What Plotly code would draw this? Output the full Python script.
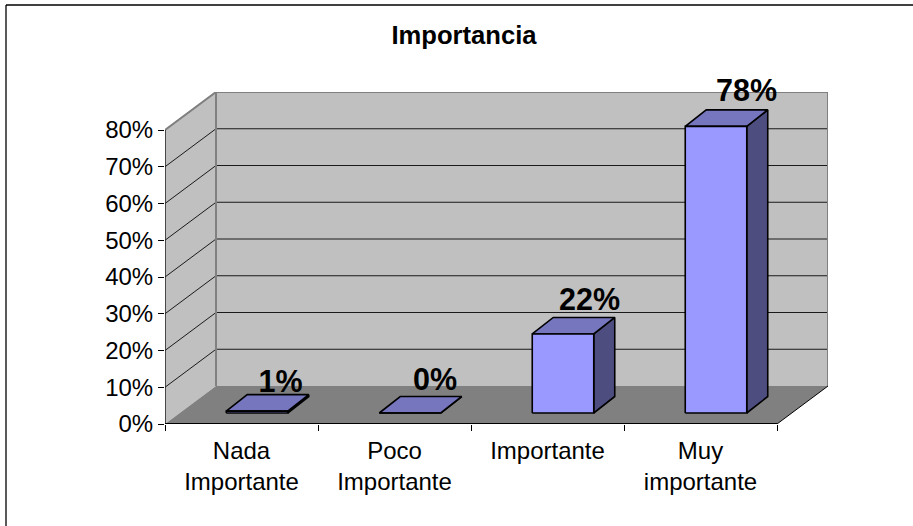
import plotly.graph_objects as go

categories = ["Nada<br>Importante", "Poco<br>Importante", "Importante", "Muy<br>importante"]
values = [0.5, 0.0, 21.5, 78.0]
labels = ["1%", "0%", "22%", "78%"]
y_ticks = [0, 10, 20, 30, 40, 50, 60, 70, 80]

W, H = 913, 526
LEFT, RIGHT_EDGE, TOP, BOTTOM = 165, 828, 92, 424
PX_X, PX_Y = 153.0, 36.75          # pixels per category / per 10 %
SY = PX_Y / 10
ux = lambda px: px / PX_X          # pixels -> axis units
uy = lambda px: px / SY
X0, X1 = -0.5, 3.5
DX, DY = ux(51), uy(38)
YMAX = 80

FONT = "Liberation Sans, Arial, sans-serif"
WALL, FLOOR, GRAY = "#C0C0C0", "#808080", "#808080"
FRONT, TOPC, SIDE = "#9999FF", "#7676BF", "#4D4D80"


def poly(xs, ys, fill, line="rgba(0,0,0,0)", width=0):
    return go.Scatter(x=xs, y=ys, mode="lines", fill="toself", fillcolor=fill,
                      line=dict(color=line, width=width), hoverinfo="skip",
                      showlegend=False, cliponaxis=False)


def path(xs, ys, color, width):
    return go.Scatter(x=xs, y=ys, mode="lines", line=dict(color=color, width=width),
                      hoverinfo="skip", showlegend=False, cliponaxis=False)


fig = go.Figure()
# walls and floor
fig.add_trace(poly([X0, X0, X0 + DX, X0 + DX, X0], [0, YMAX, YMAX + DY, DY, 0], WALL))
fig.add_trace(poly([X0 + DX, X0 + DX, X1 + DX, X1 + DX, X0 + DX],
                   [DY, YMAX + DY, YMAX + DY, DY, DY], WALL))
# gridlines
for v in y_ticks[1:]:
    fig.add_trace(path([X0, X0 + DX, X1 + DX], [v, v + DY, v + DY], "#1a1a1a", 1))
fig.add_trace(poly([X0, X0 + DX, X1 + DX, X1, X0], [0, DY, DY, 0, 0], FLOOR))
# edges
fig.add_trace(path([X0, X0 + DX, X1 + DX, X1 + DX], [YMAX, YMAX + DY, YMAX + DY, DY], GRAY, 2))
fig.add_trace(path([X0 + DX, X0 + DX], [DY, YMAX + DY], GRAY, 2))
fig.add_trace(path([X0, X0], [0, YMAX], "#202020", 1.5))
fig.add_trace(path([X1, X1 + DX], [0, DY], "#000000", 1))
fig.add_trace(path([X0, X1], [0, 0], "#000000", 2))

# bars
BW = ux(61.5) / 2
OX, OY = ux(15.5), uy(11)
BDX, BDY = ux(21), uy(16.5)
for i, v in enumerate(values):
    l, r, b, t = i + OX - BW, i + OX + BW, OY, OY + v
    fig.add_trace(poly([r, r + BDX, r + BDX, r, r], [b, b + BDY, t + BDY, t, b], SIDE, "#000000", 1.6))
    fig.add_trace(poly([l, r, r + BDX, l + BDX, l], [t, t, t + BDY, t + BDY, t], TOPC, "#000000", 1.6))
    fig.add_trace(poly([l, r, r, l, l], [b, b, t, t, b], FRONT, "#000000", 1.6))

# data labels (offsets from the top of each bar, in pixels)
label_dx = [23.5, 25, 26.5, 30.5]
label_dy = [27, 31, 32, 33]
fig.add_trace(go.Scatter(
    x=[i + OX + ux(d) for i, d in enumerate(label_dx)],
    y=[OY + v + uy(d) for v, d in zip(values, label_dy)],
    mode="text", text=labels, textposition="middle center",
    textfont=dict(family=FONT, size=30.5, color="#000000", weight=700),
    hoverinfo="skip", showlegend=False, cliponaxis=False))

plot_w = RIGHT_EDGE - LEFT
plot_h = BOTTOM - TOP
px = lambda p: (p - LEFT) / plot_w
py = lambda p: (BOTTOM - p) / plot_h

fig.update_layout(
    width=W, height=H, autosize=False,
    margin=dict(l=LEFT, r=W - RIGHT_EDGE, t=TOP, b=H - BOTTOM, pad=0),
    paper_bgcolor="white", plot_bgcolor="rgba(0,0,0,0)", showlegend=False,
    title=dict(text="<b>Importancia</b>", x=464 / W, y=1 - 35 / H, xref="container", yref="container",
               xanchor="center", yanchor="middle",
               font=dict(family=FONT, size=25.6, color="#000000")),
    font=dict(family=FONT, size=24, color="#000000"),
    shapes=[
        dict(type="line", xref="paper", yref="paper", x0=px(6), x1=px(W + 5), y0=py(5), y1=py(5),
             line=dict(color="#000000", width=1.3)),
        dict(type="line", xref="paper", yref="paper", x0=px(6), x1=px(6), y0=py(5), y1=py(H + 5),
             line=dict(color="#000000", width=1.3)),
    ],
    xaxis=dict(range=[X0, X0 + plot_w / PX_X], tickmode="array", tickvals=[0, 1, 2, 3],
               ticktext=categories, ticks="outside", ticklen=5, tickcolor="rgba(0,0,0,0)",
               showgrid=False, zeroline=False, showline=False,
               tickfont=dict(family=FONT, size=24), tickangle=0,
               minor=dict(tickmode="array", tickvals=[-0.5, 0.5, 1.5, 2.5, 3.5], ticks="outside",
                          ticklen=6, tickcolor="#000000", tickwidth=1, showgrid=False)),
    yaxis=dict(range=[0, plot_h / SY], tickmode="array", tickvals=y_ticks,
               ticktext=[f"{v}%" for v in y_ticks], ticks="outside", ticklen=6, tickcolor="#000000",
               tickwidth=1, showgrid=False, zeroline=False, showline=False,
               tickfont=dict(family=FONT, size=24)),
)
fig.write_html("out.html", config=dict(displayModeBar=False),
               post_script="document.body.style.margin='0';document.body.style.overflow='hidden';")
